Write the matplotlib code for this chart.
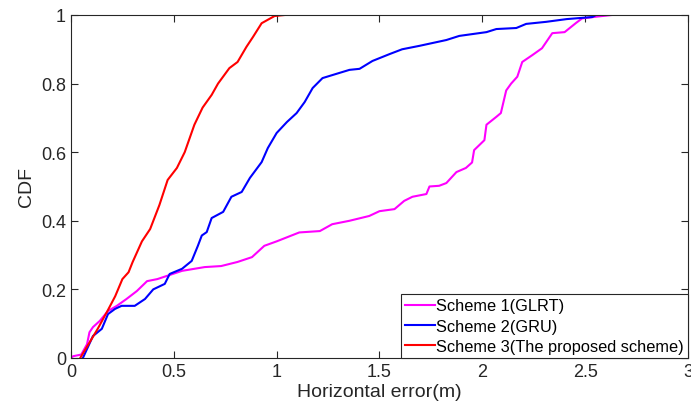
import matplotlib.pyplot as plt

glrt_x = [0.0, 0.01, 0.05, 0.078, 0.09, 0.107, 0.14, 0.18, 0.223, 0.27, 0.32, 0.37, 0.42, 0.47,
          0.54, 0.65, 0.73, 0.81, 0.88, 0.94, 1.0, 1.11, 1.21, 1.27, 1.354, 1.45, 1.5, 1.573,
          1.62, 1.66, 1.728, 1.743, 1.79, 1.825, 1.874, 1.92, 1.95, 1.96, 2.01, 2.02, 2.068,
          2.09, 2.116, 2.14, 2.17, 2.194, 2.243, 2.29, 2.34, 2.40, 2.456, 2.485, 2.553, 2.63]
glrt_y = [0.0, 0.005, 0.01, 0.04, 0.075, 0.09, 0.108, 0.137, 0.152, 0.172, 0.195, 0.224, 0.23,
          0.24, 0.254, 0.265, 0.268, 0.28, 0.294, 0.327, 0.34, 0.366, 0.37, 0.39, 0.40, 0.414,
          0.428, 0.434, 0.458, 0.47, 0.478, 0.50, 0.502, 0.51, 0.542, 0.554, 0.57, 0.606, 0.635,
          0.68, 0.703, 0.714, 0.78, 0.80, 0.82, 0.863, 0.883, 0.903, 0.947, 0.95, 0.977, 0.99,
          0.995, 1.0]

gru_x = [0.058, 0.107, 0.15, 0.18, 0.214, 0.246, 0.31, 0.36, 0.40, 0.456, 0.48, 0.54, 0.587,
         0.617, 0.636, 0.66, 0.684, 0.74, 0.78, 0.83, 0.87, 0.927, 0.957, 1.0, 1.05, 1.097,
         1.136, 1.175, 1.223, 1.272, 1.354, 1.403, 1.466, 1.549, 1.61, 1.694, 1.825, 1.888,
         2.02, 2.068, 2.165, 2.213, 2.31, 2.41, 2.534, 2.553, 2.6]
gru_y = [0.0, 0.064, 0.085, 0.128, 0.143, 0.152, 0.152, 0.172, 0.20, 0.216, 0.245, 0.26, 0.283,
         0.327, 0.357, 0.367, 0.408, 0.426, 0.47, 0.484, 0.525, 0.571, 0.612, 0.656, 0.688,
         0.714, 0.746, 0.787, 0.816, 0.825, 0.84, 0.843, 0.866, 0.886, 0.90, 0.91, 0.927,
         0.939, 0.95, 0.959, 0.962, 0.974, 0.98, 0.988, 0.994, 1.0, 1.0]

prop_x = [0.045, 0.13, 0.18, 0.215, 0.25, 0.28, 0.30, 0.345, 0.385, 0.43, 0.47, 0.515, 0.553,
          0.60, 0.64, 0.684, 0.715, 0.77, 0.81, 0.853, 0.885, 0.927, 0.99, 1.04]
prop_y = [0.0, 0.085, 0.14, 0.18, 0.23, 0.25, 0.28, 0.34, 0.376, 0.446, 0.519, 0.554, 0.60,
          0.68, 0.73, 0.767, 0.80, 0.845, 0.863, 0.907, 0.936, 0.976, 0.997, 1.0]

labels = ['Scheme 1(GLRT)', 'Scheme 2(GRU)', 'Scheme 3(The proposed scheme)']

plt.rcParams['font.family'] = ['Liberation Sans', 'DejaVu Sans']

fig = plt.figure(figsize=(6.91, 4.14), dpi=100)
ax = fig.add_axes([0.1027, 0.1329, 0.8930, 0.8285])

ax.plot(glrt_x, glrt_y, color='#FF00FF', lw=1.5, label=labels[0])
ax.plot(gru_x, gru_y, color='#0000FF', lw=1.5, label=labels[1])
ax.plot(prop_x, prop_y, color='#FF0000', lw=1.5, label=labels[2])

ax.set_xlim(0, 3)
ax.set_ylim(0, 1)
ax.set_xticks([0, 0.5, 1, 1.5, 2, 2.5, 3])
ax.set_xticklabels(['0', '0.5', '1', '1.5', '2', '2.5', '3'])
ax.set_yticks([0, 0.2, 0.4, 0.6, 0.8, 1])
ax.set_yticklabels(['0', '0.2', '0.4', '0.6', '0.8', '1'])
ax.tick_params(direction='in', top=True, right=True, labelsize=13, colors='#262626',
               length=5, width=0.8)
for s in ax.spines.values():
    s.set_color('#262626')
    s.set_linewidth(0.8)

ax.set_xlabel('Horizontal error(m)', fontsize=14, color='#262626', labelpad=2)
ax.set_ylabel('CDF', fontsize=14, color='#262626', labelpad=4)

leg = ax.legend(loc='lower right', fontsize=11.8, borderaxespad=0, fancybox=False,
                handlelength=1.8, handletextpad=0.1, labelspacing=0.32,
                borderpad=0.25, framealpha=1)
leg.get_frame().set_edgecolor('#262626')
leg.get_frame().set_linewidth(0.8)

fig.savefig('out.png', dpi=100)
